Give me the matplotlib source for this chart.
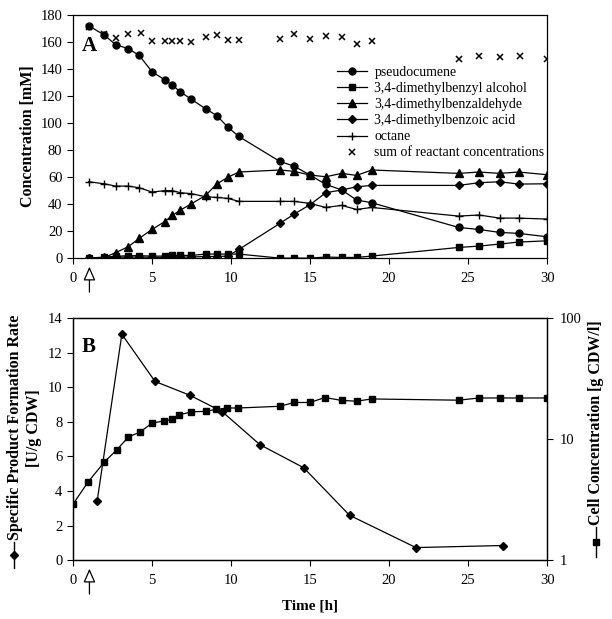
import matplotlib
matplotlib.use("Agg")
import matplotlib.pyplot as plt
from matplotlib.lines import Line2D
from matplotlib.ticker import FixedLocator, NullLocator

plt.rcParams['font.family'] = ['Liberation Serif', 'DejaVu Serif']
plt.rcParams['font.size'] = 10.5

# ---- panel A data (time [h], concentration [mM]) ----
t_a = [1.0, 2.0, 2.7, 3.5, 4.2, 5.0, 5.8, 6.3, 6.8, 7.5, 8.4, 9.1, 9.8, 10.5,
       13.1, 14.0, 15.0, 16.0, 17.0, 17.95, 18.9, 24.4, 25.7, 27.0, 28.2, 30.0]
pseudocumene = [172, 165, 158, 155, 150, 138, 132, 128, 123, 117.5, 110.5, 105.5, 97, 90,
                71.5, 68, 61.5, 54.5, 50.5, 43, 41, 22.7, 21.2, 19, 18.3, 15.8]
alcohol = [0, 0.8, 1.3, 1.8, 1.8, 1.5, 1.5, 2, 2, 2, 3, 3, 3, 3,
           0, 0, 0, 0.8, 0.5, 0.5, 1.5, 7.9, 8.9, 10.4, 11.9, 12.8]
aldehyde = [0, 0.5, 4, 8.4, 14.6, 21.2, 26.9, 31.6, 35.5, 40.2, 46.4, 54.8, 59.8, 63.7,
            65.2, 64.2, 61.5, 60.2, 62.7, 61.2, 65.2, 62.7, 63.7, 62.7, 63.7, 61.7]
acid = [0, 0.3, 0.6, 0.8, 0.8, 0.6, 0.6, 0.8, 0.8, 0.8, 1.2, 1.2, 1.5, 6.4,
        25.7, 32.6, 39.5, 48.4, 50.4, 52.8, 53.8, 53.8, 55.8, 56.5, 54.8, 55]
octane = [56.5, 55, 53.3, 53.3, 52.1, 48.9, 49.9, 49.9, 48.4, 47.7, 45.4, 44.9, 44.2, 42,
          42, 42, 40.5, 37.5, 39, 36, 37.5, 31.1, 31.9, 29.6, 29.6, 28.9]
t_sum = [1.0, 2.0, 2.7, 3.5, 4.3, 5.0, 5.8, 6.3, 6.8, 7.5, 8.4, 9.1, 9.8, 10.5,
         13.1, 14.0, 15.0, 16.0, 17.0, 17.95, 18.9, 24.4, 25.7, 27.0, 28.3, 30.0]
reactant_sum = [171, 165.6, 163, 165.6, 166.4, 160.7, 160.7, 160.7, 160.7, 160, 163.7, 165.4, 161.7, 161.7,
                162.4, 166, 162, 164.2, 163.7, 158.8, 160.7, 147.2, 149.6, 148.6, 149.6, 147.2]

# ---- panel B data ----
t_rate = [1.54, 3.1, 5.2, 7.38, 9.45, 11.84, 14.6, 17.5, 21.7, 27.2]
rate = [3.43, 13.07, 10.34, 9.55, 8.59, 6.68, 5.35, 2.6, 0.73, 0.85]
t_cell = [0, 0.97, 2.0, 2.78, 3.52, 4.24, 5.0, 5.76, 6.27, 6.73, 7.49, 8.4, 9.05, 9.75, 10.46,
          13.1, 14.0, 15.0, 15.95, 17.0, 17.95, 18.9, 24.4, 25.7, 27.0, 28.2, 30.0]
cell = [2.89, 4.44, 6.49, 8.16, 10.45, 11.42, 13.55, 14.17, 14.56, 15.88, 16.82, 17.0, 17.6, 18.1, 18.1,
        18.7, 20.1, 20.1, 22.1, 20.9, 20.6, 21.5, 21.0, 21.9, 21.9, 21.9, 21.9]

fig = plt.figure(figsize=(6.12, 6.19), dpi=100)
ax_a = fig.add_axes([0.119, 0.583, 0.775, 0.393])
ax_b = fig.add_axes([0.119, 0.095, 0.775, 0.391])

lw = 0.9
ms = 5
ax_a.plot(t_a, pseudocumene, 'k-o', lw=lw, ms=ms, label='pseudocumene')
ax_a.plot(t_a, alcohol, 'k-s', lw=lw, ms=ms, label='3,4-dimethylbenzyl alcohol')
ax_a.plot(t_a, aldehyde, 'k-^', lw=lw, ms=ms + 0.5, label='3,4-dimethylbenzaldehyde')
ax_a.plot(t_a, acid, 'k-D', lw=lw, ms=ms - 1, label='3,4-dimethylbenzoic acid')
ax_a.plot(t_a, octane, 'k-+', lw=lw, ms=ms + 1, label='octane')
ax_a.plot(t_sum, reactant_sum, 'kx', ms=ms, mew=1.1, label='sum of reactant concentrations')

ax_a.set_xlim(0, 30)
ax_a.set_ylim(0, 180)
ax_a.set_xticks(range(0, 31, 5))
ax_a.set_yticks(range(0, 181, 20))
ax_a.set_ylabel('Concentration [mM]', fontweight='bold', fontsize=11.5, labelpad=3)
ax_a.text(0.019, 0.852, 'A', transform=ax_a.transAxes, fontsize=15, fontweight='bold',
          va='baseline')
ax_a.legend(loc='upper left', bbox_to_anchor=(0.545, 0.812), frameon=False,
            fontsize=10, handlelength=2.2, handletextpad=0.5, labelspacing=0.22,
            borderaxespad=0)

ax_b.plot(t_rate, rate, 'k-D', lw=lw, ms=ms - 0.5)
ax_b.set_xlim(0, 30)
ax_b.set_ylim(0, 14)
ax_b.set_xticks(range(0, 31, 5))
ax_b.set_yticks(range(0, 15, 2))
ax_b.set_xlabel('Time [h]', fontweight='bold', fontsize=11, labelpad=9)
ax_b.text(0.019, 0.86, 'B', transform=ax_b.transAxes, fontsize=15, fontweight='bold',
          va='baseline')

ax_c = ax_b.twinx()
ax_c.plot(t_cell, cell, 'k-s', lw=lw, ms=ms)
ax_c.set_yscale('log')
ax_c.set_ylim(1, 100)
ax_c.yaxis.set_major_locator(FixedLocator([1, 10, 100]))
ax_c.yaxis.set_minor_locator(NullLocator())
ax_c.set_yticklabels(['1', '10', '100'])

for ax in (ax_a, ax_b, ax_c):
    ax.tick_params(direction='out', length=4, width=0.8, labelsize=10.5)
    ax.tick_params(axis='x', pad=6)
    for s in ax.spines.values():
        s.set_linewidth(0.9)
ax_c.tick_params(axis='y', pad=5)

# rotated labels with their series glyphs
fig.text(0.024, 0.309, 'Specific Product Formation Rate', rotation=90,
         fontweight='bold', fontsize=11.5, ha='center', va='center')
fig.text(0.055, 0.309, '[U/g CDW]', rotation=90,
         fontweight='bold', fontsize=11.5, ha='center', va='center')
fig.text(0.974, 0.317, 'Cell Concentration [g CDW/l]', rotation=90,
         fontweight='bold', fontsize=11.5, ha='center', va='center')
fig.add_artist(Line2D([0.0229, 0.0229], [0.082, 0.124], color='k', lw=1,
                      transform=fig.transFigure))
fig.add_artist(Line2D([0.0229], [0.103], color='k', marker='D', ms=4, ls='none',
                      transform=fig.transFigure))
fig.add_artist(Line2D([0.974, 0.974], [0.100, 0.149], color='k', lw=1,
                      transform=fig.transFigure))
fig.add_artist(Line2D([0.974], [0.124], color='k', marker='s', ms=4.5, ls='none',
                      transform=fig.transFigure))

# inoculation arrows under x = 1 h
for ax in (ax_a, ax_b):
    ax.annotate('', xy=(1.05, -0.035), xycoords=('data', 'axes fraction'),
                xytext=(1.05, -0.14), textcoords=('data', 'axes fraction'),
                annotation_clip=False,
                arrowprops=dict(arrowstyle='-|>,head_length=0.8,head_width=0.35',
                                fc='white', ec='black', lw=0.9, shrinkA=0, shrinkB=0))

fig.savefig('out.png', dpi=100)
